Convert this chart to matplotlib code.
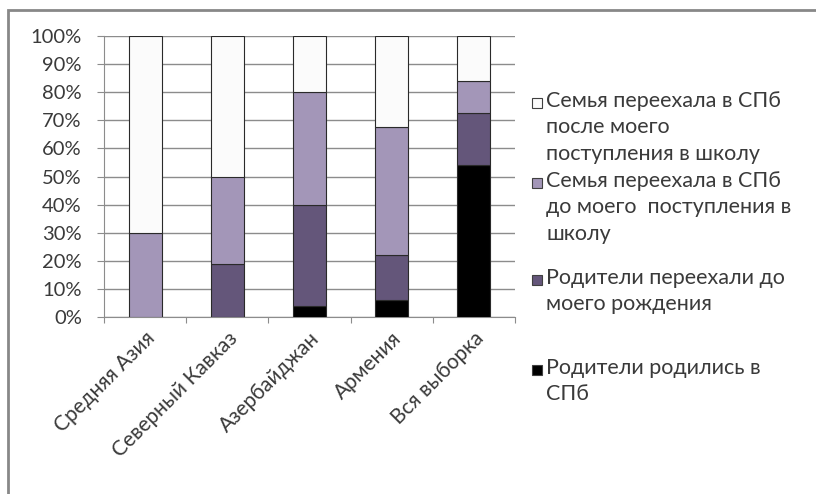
import matplotlib
matplotlib.use("Agg")
import matplotlib.pyplot as plt
from matplotlib.patches import Rectangle
import numpy as np

plt.rcParams['font.family'] = ['Lato', 'DejaVu Sans']

regions = ["Средняя Азия", "Северный Кавказ", "Азербайджан", "Армения", "Вся выборка"]

# shares in %, bottom to top
born_spb = [0, 0, 4, 6, 54]
parents_moved = [0, 19, 36, 16, 18.5]
before_school = [30, 31, 40, 45.5, 11.5]
after_school = [70, 50, 20, 32.5, 16]

series_labels = [
    "Родители родились в\nСПб",
    "Родители переехали до\nмоего рождения",
    "Семья переехала в СПб\nдо моего  поступления в\nшколу",
    "Семья переехала в СПб\nпосле моего\nпоступления в школу",
]
colors = ["#000000", "#64567a", "#a396b8", "#fbfbfb"]

fig = plt.figure(figsize=(8.16, 4.94), dpi=100)
ax = fig.add_axes([104/816, 1 - 317/494, 411/816, 281/494])

x = np.arange(len(regions))
bottom = np.zeros(len(regions))
for vals, col in zip([born_spb, parents_moved, before_school, after_school], colors):
    ax.bar(x, vals, bottom=bottom, width=0.4, color=col,
           edgecolor="#2a2a2a", linewidth=0.8, zorder=3)
    bottom += np.array(vals)

ax.set_xlim(-0.5, len(regions) - 0.5)
ax.set_ylim(0, 100)
ax.set_yticks(np.arange(0, 101, 10))
ax.set_yticklabels([f"{v}%" for v in range(0, 101, 10)], fontsize=14.5, color="#3a3a3a")
ax.yaxis.grid(True, color="#8c8c8c", linewidth=1.0, zorder=0)
ax.tick_params(axis="y", length=5, color="#8c8c8c", pad=11)

ax.set_xticks(np.arange(-0.5, len(regions), 1))
ax.set_xticklabels([])
ax.set_xticks(x, minor=True)
ax.set_xticklabels(regions, minor=True, rotation=45, ha="right",
                   rotation_mode="anchor", fontsize=15, color="#3a3a3a")
ax.tick_params(axis="x", which="major", length=4, color="#8c8c8c", direction="out")
ax.tick_params(axis="x", which="minor", length=0, pad=8)

for side in ["top", "right"]:
    ax.spines[side].set_visible(False)
for side in ["left", "bottom"]:
    ax.spines[side].set_color("#8c8c8c")

# legend, top entry first as in Excel
entry_tops = [103, 183, 280, 370]
for top, lab, col in zip(entry_tops, series_labels[::-1], colors[::-1]):
    fig.patches.append(Rectangle((532/816, 1 - (top + 5)/494), 10/816, 10/494,
                                 transform=fig.transFigure, facecolor=col,
                                 edgecolor="#404040", linewidth=0.8))
    fig.text(546/816, 1 - (top - 12)/494, lab, fontsize=15.5, color="#3a3a3a",
             va="top", ha="left", linespacing=1.4)

# chart frame (only top and left edges fall inside the picture)
fig.patches.append(Rectangle((8/816, -0.05), 1.0, 1 - 10/494 + 0.05, transform=fig.transFigure,
                             fill=False, edgecolor="#888888", linewidth=2))

fig.savefig("out.png", dpi=100)
